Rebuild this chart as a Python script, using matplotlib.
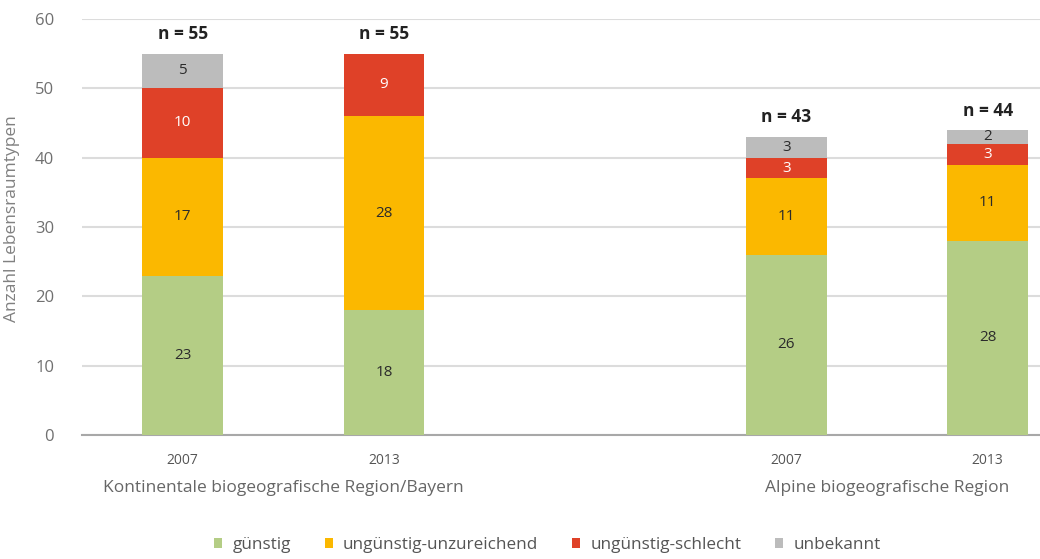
import numpy as np
import matplotlib
matplotlib.use("Agg")
import matplotlib.pyplot as plt
from matplotlib.patches import Patch

plt.rcParams['font.family'] = ['Open Sans', 'DejaVu Sans']

years = ["2007", "2013", "2007", "2013"]
positions = [0, 1, 3, 4]
regions = ["Kontinentale biogeografische Region/Bayern", "Alpine biogeografische Region"]
region_pos = [0.5, 3.5]

guenstig = [23, 18, 26, 28]
unzureichend = [17, 28, 11, 11]
schlecht = [10, 9, 3, 3]
unbekannt = [5, 0, 3, 2]
n_total = [55, 55, 43, 44]

series = [
    ("günstig", guenstig, "#b4cd85", "#2b2b2b"),
    ("ungünstig-unzureichend", unzureichend, "#fbb800", "#2b2b2b"),
    ("ungünstig-schlecht", schlecht, "#df4128", "white"),
    ("unbekannt", unbekannt, "#bcbcbc", "#2b2b2b"),
]

fig = plt.figure(figsize=(10.4, 5.59), dpi=100)
ax = fig.add_axes([82 / 1040, 1 - 435 / 559, 1 - 82 / 1040, (435 - 19) / 559])

bottom = np.zeros(len(positions))
for label, vals, color, tcolor in series:
    vals = np.array(vals, dtype=float)
    ax.bar(positions, vals, width=0.4, bottom=bottom, color=color, zorder=3)
    for x, b, v in zip(positions, bottom, vals):
        if v > 0:
            ax.text(x, b + v / 2, str(int(v)), ha="center", va="center",
                    fontsize=11, color=tcolor, zorder=4)
    bottom += vals

for x, tot in zip(positions, n_total):
    ax.text(x, tot + 1.5, "n = %d" % tot, ha="center", va="bottom",
            fontsize=12.5, fontweight="bold", color="#222222")

ax.set_ylim(0, 60)
ax.set_xlim(-0.5, 4.26)
ax.set_yticks(range(0, 61, 10))
ax.yaxis.grid(True, color="#dcdcdc", linewidth=1.5, zorder=0)
ax.set_axisbelow(True)
for s in ["top", "right", "left"]:
    ax.spines[s].set_visible(False)
ax.spines["bottom"].set_color("#a8a8a8")
ax.spines["bottom"].set_linewidth(1.5)
ax.tick_params(axis="y", length=0, labelsize=12, labelcolor="#707070", pad=20)
ax.set_xticks(positions)
ax.set_xticklabels(years, fontsize=10, color="#555555")
ax.tick_params(axis="x", length=0, pad=13)

for x, r in zip(region_pos, regions):
    ax.text(x, -7.6, r, ha="center", va="center", fontsize=12.5, color="#666666")

ax.set_ylabel("Anzahl Lebensraumtypen", fontsize=12.5, color="#808080")
ax.yaxis.set_label_coords(-0.065, 0.52)

handles = [Patch(facecolor=c, label=l) for l, _, c, _ in series]
fig.legend(handles=handles, loc="center", bbox_to_anchor=(0.5264, 1 - 545 / 559),
           ncol=4, frameon=False, fontsize=12.3, handlelength=0.45, handleheight=0.6,
           columnspacing=2.0, handletextpad=0.6, labelcolor="#555555")

fig.savefig("out.png", dpi=100)
